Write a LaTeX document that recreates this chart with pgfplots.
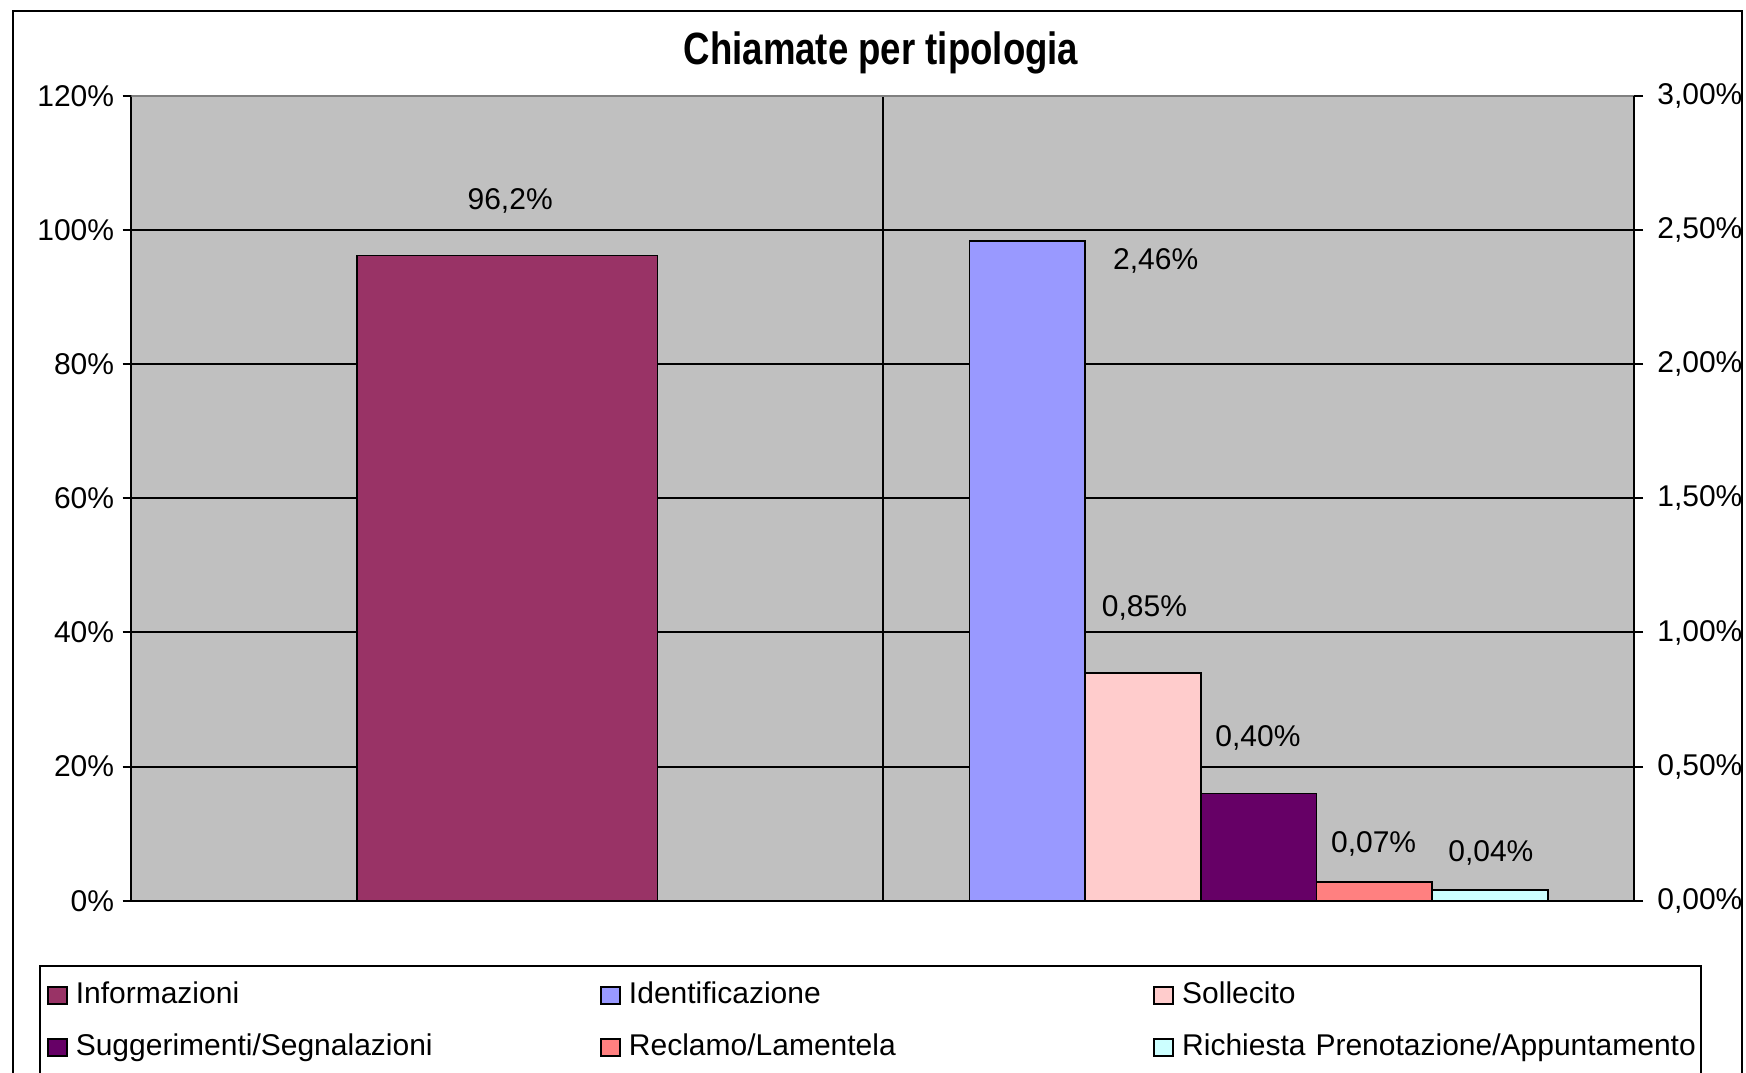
\documentclass[border=0pt]{standalone}
\usepackage{fontspec}
\setmainfont{Liberation Sans}
\usepackage{pgfplots}
\pgfplotsset{compat=1.18}
\definecolor{cInf}{HTML}{993366}
\definecolor{cId}{HTML}{9999FF}
\definecolor{cSol}{HTML}{FFCCCC}
\definecolor{cSug}{HTML}{660066}
\definecolor{cRec}{HTML}{FF8080}
\definecolor{cRic}{HTML}{CCFFFF}
\definecolor{plotbg}{HTML}{C0C0C0}
\newcommand{\lfont}{\fontsize{7.5}{9}\selectfont}
\pgfplotsset{
  mybar/.style={ybar, bar width=0.154, draw=black, line width=0.4pt, fill=#1,
    legend image code/.code={\path (0pt,0pt); \draw[fill=#1, draw=black, line width=0.4pt] (0.6pt,-2.1pt) rectangle (5.35pt,2.15pt);}},
  base/.style={scale only axis, width=375.75pt, height=201.25pt, at={(0pt,0pt)}, anchor=south west,
    xmin=0, xmax=2, ymin=0, tick align=outside, major tick length=2.2pt,
    tick label style={font=\lfont}, /pgf/number format/assume math mode=true, xtick=\empty,
    axis line style={black, line width=0.5pt}, tick style={black, line width=0.5pt}}
}
\begin{document}
\begin{tikzpicture}
\useasboundingbox (-32.85pt,-42.8pt) rectangle (403.65pt,225.2pt);
\begin{axis}[base, ymax=120, ytick={0,20,40,60,80,100,120},
  yticklabel={\pgfmathprintnumber{\tick}\%},
  yticklabel style={xshift=1.4pt},
  axis y line*=left, axis x line*=bottom,
  ymajorgrids, major grid style={black, line width=0.5pt},
  axis background/.style={fill=plotbg}]
\addplot[ybar, bar width=0.4, fill=cInf, draw=black, line width=0.4pt] coordinates {(0.5,96.2)};
\draw[black, line width=0.5pt] (axis cs:1,0) -- (axis cs:1,120);
\draw[gray, line width=0.6pt] (rel axis cs:0,1) -- (rel axis cs:1,1);
\node[font=\lfont] at (axis cs:0.504,104.3) {96,2\%};
\end{axis}
\begin{axis}[base, ymax=3, ytick={0,0.5,1,1.5,2,2.5,3},
  yticklabel={\pgfmathprintnumber[fixed,fixed zerofill,precision=2,use comma]{\tick}\%},
  axis y line*=right, axis x line=none,
  legend columns=3,
  legend style={at={(axis description cs:-0.06148,-0.07975)}, anchor=north west,
    draw=black, fill=white, font=\lfont, inner xsep=1.2pt, inner ysep=4pt, row sep=6pt,
    /tikz/every odd column/.append style={column sep=2.05pt},
    /tikz/every even column/.append style={column sep=2.0pt},
    nodes={text width=128.5pt, align=left, inner xsep=0pt, inner ysep=0pt, text height=5.5pt, text depth=1.5pt}}]
\addlegendimage{mybar=cInf}
\addplot[mybar=cId] coordinates {(1.192,2.46)};
\addplot[mybar=cSol] coordinates {(1.346,0.85)};
\addplot[mybar=cSug] coordinates {(1.5,0.40)};
\addplot[mybar=cRec] coordinates {(1.654,0.07)};
\addplot[mybar=cRic] coordinates {(1.808,0.04)};
\legend{Informazioni, Identificazione, Sollecito, Suggerimenti/Segnalazioni, Reclamo/Lamentela, Richiesta Prenotazione/Appuntamento}
\node[font=\lfont] at (axis cs:1.363,2.386) {2,46\%};
\node[font=\lfont] at (axis cs:1.348,1.091) {0,85\%};
\node[font=\lfont] at (axis cs:1.499,0.606) {0,40\%};
\node[font=\lfont] at (axis cs:1.653,0.212) {0,07\%};
\node[font=\lfont] at (axis cs:1.809,0.178) {0,04\%};
\end{axis}
\node[font=\bfseries\fontsize{11.3}{13}\selectfont, xscale=0.81, anchor=base] at (187.4pt,209.1pt) {Chiamate per tipologia};
\draw[black, line width=0.6pt] (-29.6pt,-60pt) rectangle (402.65pt,222.45pt);
\end{tikzpicture}
\end{document}
